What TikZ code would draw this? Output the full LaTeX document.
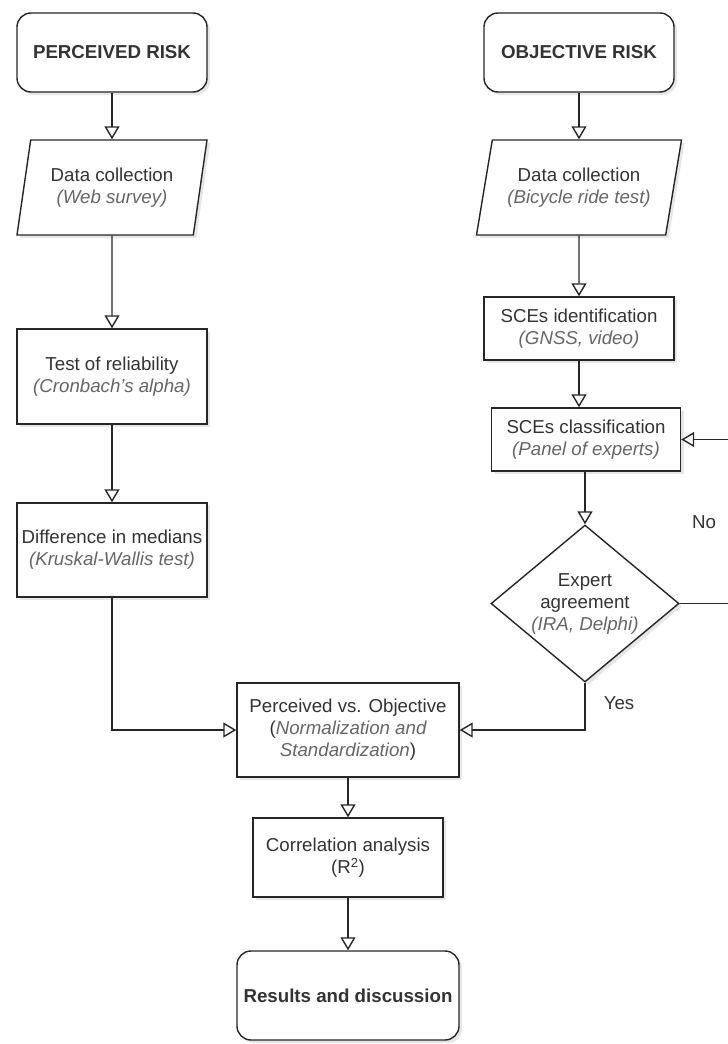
\documentclass[tikz,border=0pt]{standalone}
\usepackage{fontspec}
\setmainfont{Liberation Sans}
\usetikzlibrary{arrows.meta,positioning,calc,shapes.geometric,shadows}
\definecolor{txtdark}{HTML}{333333}
\definecolor{txtgray}{HTML}{666666}
\newcommand{\flownote}[1]{{\color{txtgray}\itshape #1}}
\tikzset{
  flowarr/.style={-{Triangle[open,length=13pt,width=15pt]}, line width=1.4pt, draw=black!85},
  flownode/.style={draw=black!85, line width=1.4pt, fill=white, align=center, inner sep=2pt, text=txtdark,
    drop shadow={opacity=0.2, shadow xshift=3pt, shadow yshift=-3pt}},
  flowlabel/.style={text=txtdark},
}

\begin{document}
\begin{tikzpicture}[
  x=1pt, y=-1pt,
  font=\fontsize{18.7}{22}\selectfont,
  termbox/.style={flownode, rounded corners=14pt, minimum width=190pt, minimum height=79pt},
  procbox/.style={flownode, minimum width=190pt, minimum height=95pt},
  iobox/.style={flownode, trapezium, trapezium stretches body, minimum height=95pt},
  decbox/.style={flownode, diamond, aspect=1.2, inner sep=1pt, minimum width=188pt, minimum height=157pt},
]
  \clip (0,0) rectangle (728,1044);
  % perceived risk branch
  \node[termbox] (pr) at (112,52.5) {\textbf{PERCEIVED RISK}};
  \node[iobox, minimum width=190pt, trapezium left angle=72.5, trapezium right angle=107.5] (dc1) at (112,187.5)
    {Data collection\\\flownote{(Web survey)}};
  \node[procbox] (tr) at (112,376.5) {Test of reliability\\\flownote{(Cronbach's alpha)}};
  \node[procbox, minimum height=94pt] (dm) at (112,550) {Difference in medians\\\flownote{(Kruskal-Wallis test)}};
  % objective risk branch
  \node[termbox] (or) at (579,52.5) {\textbf{OBJECTIVE RISK}};
  \node[iobox, minimum width=205pt, trapezium left angle=70, trapezium right angle=110] (dc2) at (579,187.5)
    {Data collection\\\flownote{(Bicycle ride test)}};
  \node[procbox, minimum height=63pt] (si) at (579,328.5) {SCEs identification\\\flownote{(GNSS, video)}};
  \node[procbox, minimum width=189pt, minimum height=63pt] (sc) at (586,439.5) {SCEs classification\\\flownote{(Panel of experts)}};
  \node[decbox] (ea) at (585,603.5) {Expert\\agreement\\\flownote{(IRA, Delphi)}};
  % joint part
  \node[procbox, minimum width=222pt, minimum height=94pt] (pvo) at (348,730)
    {Perceived vs. Objective\\(\flownote{Normalization and}\\\flownote{Standardization})};
  \node[procbox, minimum height=79pt] (ca) at (348,857.5) {Correlation analysis\\(R\textsuperscript{2})};
  \node[termbox, minimum width=222pt, minimum height=89pt] (rd) at (348,995.5) {\textbf{Results and discussion}};

  \foreach \a/\b in {pr/dc1,dc1/tr,tr/dm,or/dc2,dc2/si,pvo/ca,ca/rd}
    \draw[flowarr] (\a) -- (\b);
  \draw[flowarr] (si.south) -- (si.south |- sc.north);
  \draw[flowarr] (sc.south -| ea.north) -- (ea.north);
  \draw[flowarr] (dm.south) |- (pvo.west);
  \draw[flowarr] (ea.south) |- (pvo.east);
  \draw[flowarr] (ea.east) -- ++(60,0) |- (sc.east);
  \node[flowlabel] (no) at (704,522) {No};
  \node[flowlabel] (yes) at (619,703) {Yes};
\end{tikzpicture}
\end{document}
